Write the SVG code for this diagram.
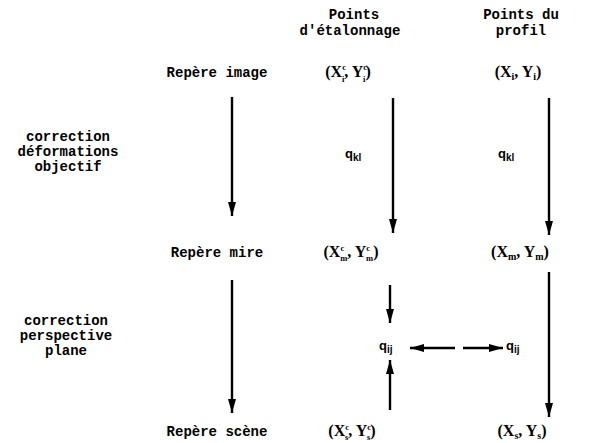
<svg xmlns="http://www.w3.org/2000/svg" width="604" height="443" viewBox="0 0 604 443">
  <defs>
    <marker id="ah" viewBox="0 0 14 10" refX="14" refY="5" markerWidth="14" markerHeight="10" markerUnits="userSpaceOnUse" orient="auto">
      <path d="M0,1 L14,5 L0,9 Z" fill="#000"/>
    </marker>
    <style>
      .lab { font-family: "Liberation Mono", "Courier New", monospace; font-size: 14px; font-weight: bold; fill: #000; text-anchor: middle; }
      .math { font-family: "Liberation Serif", "Times New Roman", serif; font-size: 16px; font-weight: bold; fill: #000; text-anchor: middle; }
      .sub { font-size: 10px; }
      .st { font-size: 8.5px; }
      .q { font-family: "Liberation Sans", Arial, sans-serif; font-size: 13px; font-weight: bold; fill: #000; }
      .edge { stroke: #000; stroke-width: 2.4; fill: none; marker-end: url(#ah); }
    </style>
  </defs>
  <rect width="604" height="443" fill="#fff"/>

  <!-- column headers -->
  <g id="hdr-etalonnage">
    <text class="lab" x="354" y="19">Points</text>
    <text class="lab" x="350" y="35">d'étalonnage</text>
  </g>
  <g id="hdr-profil">
    <text class="lab" x="521" y="19">Points du</text>
    <text class="lab" x="521" y="35">profil</text>
  </g>

  <!-- reference frames -->
  <g id="repere-image"><text class="lab" x="217" y="77">Repère image</text></g>
  <g id="repere-mire"><text class="lab" x="217" y="257">Repère mire</text></g>
  <g id="repere-scene"><text class="lab" x="217" y="436">Repère scène</text></g>

  <!-- corrections -->
  <g id="corr-objectif">
    <text class="lab" x="68" y="141">correction</text>
    <text class="lab" x="68" y="156">déformations</text>
    <text class="lab" x="68" y="171">objectif</text>
  </g>
  <g id="corr-perspective">
    <text class="lab" x="66" y="325">correction</text>
    <text class="lab" x="66" y="340">perspective</text>
    <text class="lab" x="66" y="355">plane</text>
  </g>

  <!-- calibration points: superscript c stacked over the frame subscript -->
  <g id="etal-image"><text class="math" x="348" y="77">(X<tspan class="st" dy="-7">c</tspan><tspan class="st" dx="-4" dy="12">i</tspan><tspan dy="-5">, Y</tspan><tspan class="st" dy="-7">c</tspan><tspan class="st" dx="-4" dy="12">i</tspan><tspan dy="-5">)</tspan></text></g>
  <g id="etal-mire"><text class="math" x="351" y="257">(X<tspan class="st" dy="-6">c</tspan><tspan class="st" dx="-4" dy="10">m</tspan><tspan dy="-4">, Y</tspan><tspan class="st" dy="-6">c</tspan><tspan class="st" dx="-4" dy="10">m</tspan><tspan dy="-4">)</tspan></text></g>
  <g id="etal-scene"><text class="math" x="352" y="436">(X<tspan class="st" dy="-6">c</tspan><tspan class="st" dx="-4" dy="10">s</tspan><tspan dy="-4">, Y</tspan><tspan class="st" dy="-6">c</tspan><tspan class="st" dx="-4" dy="10">s</tspan><tspan dy="-4">)</tspan></text></g>

  <!-- profile points -->
  <g id="prof-image"><text class="math" x="518" y="77">(X<tspan class="sub" dy="3">i</tspan><tspan dy="-3">, Y</tspan><tspan class="sub" dy="3">i</tspan><tspan dy="-3">)</tspan></text></g>
  <g id="prof-mire"><text class="math" x="520" y="257">(X<tspan class="sub" dy="3">m</tspan><tspan dy="-3">, Y</tspan><tspan class="sub" dy="3">m</tspan><tspan dy="-3">)</tspan></text></g>
  <g id="prof-scene"><text class="math" x="522" y="436">(X<tspan class="sub" dy="3">s</tspan><tspan dy="-3">, Y</tspan><tspan class="sub" dy="3">s</tspan><tspan dy="-3">)</tspan></text></g>

  <!-- transform coefficients -->
  <g id="qkl-etal"><text class="q" x="345" y="158">q<tspan class="sub" dy="3">kl</tspan></text></g>
  <g id="qkl-prof"><text class="q" x="498" y="158">q<tspan class="sub" dy="3">kl</tspan></text></g>
  <g id="qij-etal"><text class="q" x="379" y="350">q<tspan class="sub" dy="3">ij</tspan></text></g>
  <g id="qij-prof"><text class="q" x="506" y="350">q<tspan class="sub" dy="3">ij</tspan></text></g>

  <!-- connectors -->
  <g id="connectors">
    <path class="edge" d="M232,97 L232,216"/>
    <path class="edge" d="M232,280 L232,413"/>
    <path class="edge" d="M393,98 L393,233"/>
    <path class="edge" d="M549,98 L549,235"/>
    <path class="edge" d="M390,285 L390,323"/>
    <path class="edge" d="M390,410 L390,360"/>
    <path class="edge" d="M455,348 L410,348"/>
    <path class="edge" d="M463,348 L503,348"/>
    <path class="edge" d="M549,272 L549,417"/>
  </g>
</svg>
